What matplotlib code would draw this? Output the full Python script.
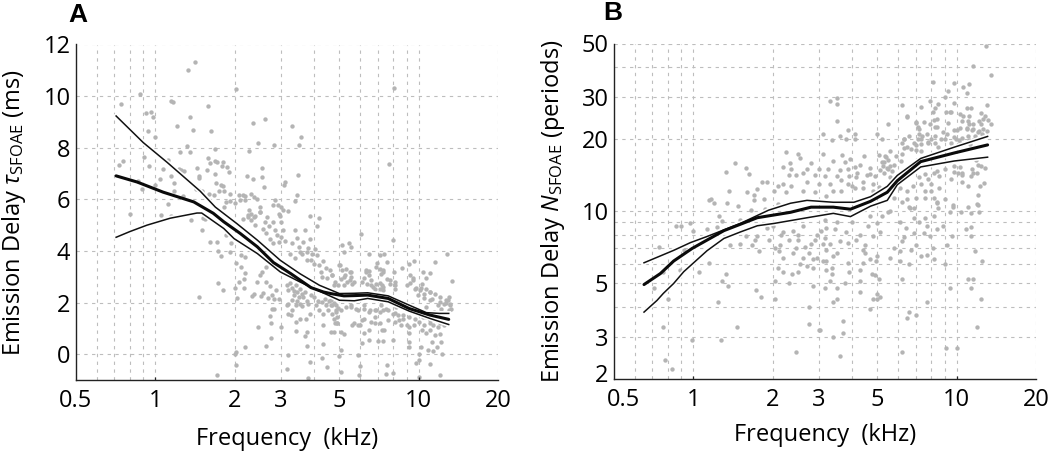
"""Emission delay vs frequency, two panels (log x axis)."""

import numpy as np
import matplotlib
matplotlib.use("Agg")
import matplotlib.pyplot as plt
import matplotlib.patheffects as pe
from matplotlib.ticker import NullFormatter
from matplotlib.transforms import ScaledTranslation

plt.rcParams['font.family'] = ['Open Sans', 'DejaVu Sans']
plt.rcParams['mathtext.fontset'] = 'custom'
plt.rcParams['mathtext.rm'] = 'Open Sans'
plt.rcParams['mathtext.it'] = 'Open Sans:italic'
plt.rcParams['mathtext.bf'] = 'Open Sans:bold'

# Panel A scatter: frequency (kHz), delay (ms)
points_a = [
    (1.41,11.33),(1.33,11.02),(2.03,10.27),(0.875,10.07),(0.74,9.70),(1.15,9.80),(1.17,9.76),(1.58,9.62),
    (0.92,9.36),(0.96,9.39),(0.977,9.2),(1.36,9.2),(1.21,8.86),(0.94,8.64),(1.39,8.68),(1.63,8.64),
    (0.995,8.41),(2.34,8.94),(2.6,9.12),(3.3,8.83),(3.56,8.4),(2.46,8.18),(2.83,8.1),(3.5,8.1),
    (2.26,7.88),(1.32,8.06),(1.24,7.84),(1.36,7.84),(1.68,7.96),(0.906,7.65),(1.12,7.54),(0.755,7.49),
    (0.73,7.35),(0.95,7.3),(1.59,7.6),(1.68,7.49),(1.71,7.43),(1.62,7.39),(1.81,7.45),(1.79,7.3),
    (1.87,7.26),(1.9,7.06),(1.44,7.23),(1.57,7.12),(1.68,7.0),(1.07,7.19),(1.23,7.17),(1.25,7.13),
    (1.28,7.08),(1.15,6.9),(1.46,6.91),(1.47,6.83),(1.04,6.78),(1.18,6.64),(1.0,6.57),(0.86,6.7),
    (0.89,6.39),(1.18,6.33),(1.7,6.64),(1.78,6.55),(1.8,6.52),(1.43,6.4),(1.47,6.35),(1.5,6.31),
    (1.75,6.31),(1.82,6.31),(1.6,6.2),(1.67,6.16),(1.92,6.2),(1.27,6.14),(2.22,6.9),(2.34,6.8),
    (2.55,7.2),(2.55,6.86),(2.59,6.47),(3.47,6.96),(3.12,6.66),(3.07,6.55),(3.44,6.16),(2.07,6.16),
    (2.15,6.15),(2.2,6.14),(2.3,6.19),(2.37,6.1),(2.43,6.0),(2.0,5.84),(2.1,5.97),(2.2,5.97),
    (1.85,5.9),(1.83,5.7),(1.92,5.94),(2.27,5.6),(2.5,5.7),(2.5,5.5),(2.8,5.77),(2.85,5.97),
    (2.93,5.8),(3.0,5.7),(3.05,5.58),(2.97,5.36),(3.2,5.55),(3.4,5.95),(2.25,5.38),(2.15,5.25),
    (2.37,5.3),(1.12,5.82),(0.8,5.45),(1.05,5.38),(1.15,5.36),(1.55,5.25),(7.69,7.36),(8.05,10.33),
    (1.37,5.19),(1.52,5.26),(1.5,4.8),(1.62,4.35),(1.72,4.35),(1.94,4.29),(1.85,4.61),(1.73,4.0),
    (1.92,3.96),(1.78,3.81),(2.12,3.86),(2.2,3.75),(2.03,3.54),(2.11,3.36),(2.19,3.13),(2.17,2.93),
    (2.08,2.8),(1.73,2.76),(1.81,2.5),(2.0,2.57),(2.17,2.57),(1.46,2.23),(2.05,2.19),(2.32,2.25),
    (2.38,2.35),(2.51,2.25),(2.57,2.39),(2.68,2.19),(2.78,2.29),(2.88,2.48),(2.73,2.65),(2.64,2.8),
    (2.44,2.8),(2.49,3.06),(2.55,3.19),(2.63,3.36),(2.82,2.12),(2.95,2.12),(2.77,1.77),(2.82,1.77),
    (2.73,1.47),(2.76,1.21),(2.46,1.05),(3.0,1.06),(2.76,0.61),(2.2,0.28),(2.64,0.31),(2.03,0.09),
    (2.0,0.02),(2.03,-0.41),(1.71,-0.8),(3.2,-0.04),(3.15,-0.58),(3.8,-0.93),(3.87,-0.31),(4.5,-0.49),
    (4.3,-0.14),(4.35,0.41),(3.78,0.31),(3.7,0.7),(3.75,0.87),(3.42,0.9),(3.43,1.23),(3.54,1.38),
    (3.72,1.36),(3.85,1.57),(3.2,1.57),(3.27,1.51),(3.15,1.9),(3.2,1.96),(3.15,2.67),(3.2,2.48),
    (3.3,2.58),(3.42,2.67),(3.55,2.54),(3.7,2.41),(3.35,2.29),(3.5,2.2),(3.65,2.2),(3.77,2.07),
    (3.55,1.96),(3.42,1.9),(3.3,1.73),(4.06,1.9),(4.2,1.7),(4.35,1.57),(4.52,1.7),(4.7,1.57),
    (4.28,2.03),(4.45,1.9),(4.65,2.1),(4.85,1.9),(4.9,1.45),(4.35,1.12),(4.65,0.87),(4.8,1.19),
    (2.3,5.45),(2.3,5.19),(2.4,5.0),(2.5,5.5),(2.6,5.13),(2.57,4.87),(2.63,4.68),(2.8,5.13),
    (2.95,5.45),(3.0,5.13),(2.85,4.8),(2.73,4.48),(2.8,4.29),(2.95,4.35),(3.0,4.55),(3.4,4.8),
    (3.7,4.8),(3.85,4.48),(3.65,4.35),(3.5,4.16),(3.6,3.9),(3.75,3.96),(4.05,4.09),(4.1,3.84),
    (3.9,3.64),(3.75,3.64),(4.2,3.45),(4.25,3.19),(4.6,3.25),(4.7,3.06),(5.0,3.45),(4.1,4.96),
    (3.85,5.35),(4.2,5.26),(3.4,3.71),(3.25,3.9),
    (6.06,4.65),(7.97,4.42),(5.1,4.23),(5.45,4.32),(5.55,4.14),(5.2,3.97),(6.5,3.9),(7.1,3.84),
    (7.4,3.88),(7.55,3.58),(6.95,3.52),(6.9,3.39),(7.1,3.29),(7.35,3.26),(8.06,3.17),(8.65,3.35),
    (9.2,3.49),(9.6,3.62),(11.5,3.56),(12.8,3.9),(13.4,2.83),(10.4,3.2),(11.0,3.13),(10.7,2.94),
    (9.5,2.94),(9.3,2.74),(9.8,2.55),(10.2,2.55),(11.0,2.42),(13.0,2.23),(12.7,2.1),(12.0,2.03),
    (11.0,2.1),(10.5,2.16),(9.9,2.29),(5.04,3.45),(5.3,3.29),(5.55,3.2),(6.3,3.2),(6.45,3.24),
    (5.2,3.0),(5.5,2.87),(5.7,2.81),(6.2,2.94),(6.6,2.87),(7.1,2.74),(6.7,2.61),(7.3,2.61),
    (7.8,2.87),(8.1,2.68),(4.7,1.9),(4.85,1.64),(4.9,1.2),(4.75,0.87),(5.05,0.87),(5.2,0.78),
    (5.3,1.84),(5.55,1.9),(5.8,1.77),(6.2,1.9),(6.55,1.71),(6.8,1.45),(5.9,1.13),(5.6,1.13),
    (6.1,1.32),(6.2,0.81),(6.5,0.94),(6.85,1.2),(7.25,0.94),(7.4,0.94),(6.5,0.55),(7.0,0.51),
    (7.3,0.51),(6.1,0.42),(8.0,0.55),(9.2,0.81),(9.2,0.48),(9.15,0.26),(10.2,0.26),(10.8,0.16),
    (11.3,0.13),(11.7,0.26),(12.2,0.48),(12.0,0.78),(11.2,0.48),(10.3,0.94),(11.0,1.2),(11.8,1.06),
    (5.05,0.16),(5.0,-0.07),(5.9,-0.03),(5.05,-0.68),(6.0,-0.46),(5.95,-0.81),(7.6,-0.42),(8.0,-0.72),
    (7.5,-0.77),(10.0,-0.9),(12.0,-0.8),(11.0,-0.38),(10.0,0.0),(10.0,-0.23),(9.8,-0.36),(12.3,0.0),
    (11.4,1.65),(12.1,1.77),(13.0,1.71),(10.7,1.84),(10.4,1.45),(10.9,1.39),(12.7,1.97),(13.2,1.9),
    (13.3,1.77),(11.8,1.9),(11.0,0.94),(10.7,0.81),(11.5,0.74),(8.2,1.84),(8.7,1.52),(8.4,1.32),
    (9.0,1.13),(9.2,1.06),(9.6,1.13),(8.1,1.58),(7.5,1.77),(7.2,1.9),(6.9,1.71),
    # dense band around the curve
    (5.1,3.25),(5.25,3.06),(5.05,2.93),(5.5,3.19),(5.55,3.0),(5.35,2.8),(5.2,2.67),(5.6,2.73),
    (4.7,3.06),(4.75,2.67),(4.95,2.67),(6.3,3.25),(6.5,3.06),(6.1,2.8),(6.35,2.73),(6.6,2.67),
    (6.9,2.73),(7.2,3.12),(7.35,3.19),(7.55,2.93),(7.25,2.67),(7.8,2.73),(8.1,2.8),(8.1,2.54),
    (6.8,2.54),(7.1,2.54),(7.35,2.48),(9.0,2.67),(9.5,2.87),(9.3,3.06),(10.3,2.73),(10.7,2.54),
    (11.0,2.41),(11.5,2.35),(12.0,2.22),(12.9,2.09),(12.5,1.96),(13.2,1.96),(11.2,2.15),(10.5,2.35),
    (10.1,2.48),(9.7,2.54),(4.63,1.9),(4.85,1.7),(5.05,1.7),(4.75,1.38),(4.9,1.2),(5.55,1.83),
    (5.9,1.7),(6.2,1.77),(6.45,1.64),(6.85,1.7),(7.1,1.64),(7.35,1.7),(7.65,1.7),(8.0,1.57),
    (8.35,1.51),(8.75,1.38),(9.2,1.44),(9.7,1.38),(10.0,1.25),(10.7,1.44),(11.0,1.32),(11.5,1.38),
    (12.0,1.19),(12.5,1.12),(11.3,1.12),(10.5,1.12),(6.2,1.38),(6.0,1.12),(5.7,1.19),(6.6,1.25),
    (7.1,1.19),(7.65,1.32),(8.1,1.25),(8.6,1.12),(3.25,2.75),(3.35,2.45),(3.45,2.42),(3.6,2.35),
    (3.3,2.1),(3.45,2.05),(3.6,1.85),(3.8,1.95),(3.9,2.3),(4.0,2.2),(4.15,2.05),(4.4,2.15),
    (4.55,2.05),(4.75,2.0),(4.95,1.8),(2.25,5.3),(2.4,5.35),(2.65,5.3),(2.7,4.95),(2.9,4.6),
    (3.1,4.4),(3.05,4.8),(3.3,4.3),(3.45,4.5),(3.55,3.95),(3.8,4.1),(3.95,3.9),(4.0,3.5),
    (4.35,3.6),(4.45,3.35),(4.5,2.95),(4.3,3.0),(4.8,2.8),
]

# Panel A curves: mean and the two bounds
mean_f_a = [0.71,0.854,1.07,1.4,1.66,1.82,2.1,2.44,2.81,3.27,3.9,4.35,4.63,5.2,5.68,6.4,7.66,9.2,11.0,13.0]
mean_a = [6.91,6.67,6.28,5.9,5.46,5.13,4.68,4.16,3.55,3.12,2.58,2.41,2.35,2.26,2.27,2.29,2.16,1.77,1.52,1.35]
upper_f_a = [0.71,0.9,1.11,1.48,1.69,2.04,2.44,2.98,3.54,4.2,5.0,5.7,6.4,7.66,9.2,10.7,12.0,13.0]
upper_a = [9.23,8.2,7.43,6.32,5.7,5.06,4.42,3.64,3.12,2.67,2.35,2.36,2.38,2.26,1.9,1.61,1.58,1.58]
lower_f_a = [0.71,0.8,0.93,1.14,1.44,1.5,1.57,1.82,1.99,2.44,2.98,3.54,4.2,5.0,5.7,6.4,7.66,9.2,11.0,13.0]
lower_a = [4.53,4.75,5.0,5.27,5.47,5.47,5.33,4.87,4.48,3.9,3.19,2.8,2.44,2.09,2.07,2.16,2.03,1.67,1.39,1.15]

# Panel B scatter: frequency (kHz), delay (periods)
points_b = [
    (1.44,15.9),(1.33,14.6),(1.58,15.1),(1.63,14.3),(1.17,11.3),(1.15,11.1),(1.37,12.2),(1.34,10.8),
    (1.2,10.8),(1.48,10.5),(1.25,9.6),(0.975,8.9),(0.9,8.7),(0.86,8.7),(1.0,8.3),(1.13,8.4),
    (1.23,8.6),(1.28,9.1),(1.5,9.2),(1.58,7.9),(1.72,7.6),(1.67,7.2),(1.77,6.8),(1.38,7.2),
    (1.51,7.3),(0.92,6.9),(0.74,7.1),(1.15,6.1),(1.05,5.6),(0.89,5.7),(0.77,5.6),(1.33,5.5),
    (1.29,5.1),(1.35,4.9),(0.71,4.8),(0.8,4.3),(1.73,4.7),(1.8,4.4),(2.05,4.3),(1.24,4.2),
    (0.77,3.3),(0.99,2.9),(1.27,2.9),(1.46,3.3),(0.78,2.4),(0.83,2.2),(2.45,2.6),(2.75,3.4),
    (2.74,4.0),(3.0,3.2),(2.85,4.9),(2.3,5.0),(2.05,5.1),(2.37,5.5),(2.5,5.6),(2.2,5.6),
    (2.1,5.8),(2.2,6.4),(2.05,7.0),(2.13,7.2),(2.12,6.8),(2.4,6.7),(2.6,6.4),(2.65,7.1),
    (2.75,6.7),(2.85,6.3),(2.55,6.0),(2.7,5.9),(2.85,5.8),(2.95,6.4),(2.5,7.6),(2.2,8.2),
    (2.15,8.0),(1.93,7.6),(2.5,8.0),(2.95,8.0),(2.6,8.7),(1.7,11.7),(1.75,12.4),(1.83,13.2),
    (1.9,13.2),(1.7,11.1),(1.85,11.3),(2.03,12.2),(2.1,12.7),(2.2,13.0),(2.25,12.0),(2.35,12.7),
    (2.45,14.2),(2.3,14.2),(2.2,15.3),(2.33,15.9),(2.6,12.2),(2.7,13.3),(2.9,14.2),(3.0,13.0),
    (2.9,12.0),(2.25,17.6),(2.5,17.4),(2.8,15.9),(2.55,16.7),(1.6,12.0),(1.65,10.1),(1.87,10.2),
    (2.1,10.7),
    (12.9,48.9),(11.5,40.4),(13.5,37.0),(8.1,34.6),(9.8,34.3),(11.1,34.0),(10.6,32.8),(10.9,31.0),
    (9.3,31.6),(9.0,30.0),(7.9,28.8),(8.5,28.0),(9.8,28.3),(6.2,27.7),(7.3,27.2),(8.1,26.0),
    (9.5,26.0),(10.9,26.8),(13.0,27.8),(11.3,27.0),(10.6,25.0),(11.1,25.0),(12.8,25.0),(6.5,24.8),
    (8.4,24.2),(9.3,23.4),(7.0,23.4),(7.9,23.2),(5.5,23.2),(3.5,23.8),(3.3,28.8),(3.5,29.5),
    (3.5,28.0),(13.5,23.2),(12.4,23.0),(11.1,23.0),(12.6,22.0),(13.0,21.5),(12.2,21.5),(11.5,22.0),
    (10.9,22.0),(10.0,21.8),(8.4,22.4),(7.2,22.0),(7.2,21.0),(7.3,20.0),(5.0,21.0),(5.2,20.0),
    (6.3,20.0),(3.85,21.8),(4.1,21.0),(4.1,20.0),(3.8,20.0),(3.6,20.5),(3.35,19.8),(3.1,20.9),
    (6.2,19.2),(6.5,18.6),(7.0,18.9),(8.0,20.0),(7.8,19.5),(8.5,18.6),(9.0,20.0),(9.8,20.4),
    (11.1,19.8),(10.2,19.8),(3.1,17.3),(3.68,17.2),(3.4,16.2),(3.75,16.0),(3.85,15.0),(4.1,15.3),
    (4.3,15.6),(4.7,15.1),(4.7,14.3),(3.5,14.0),(3.65,13.5),(3.85,13.0),(4.0,12.7),(4.15,13.9),
    (4.1,12.5),(4.4,12.5),(3.65,12.2),(3.4,12.2),(3.2,11.6),(4.8,13.0),(4.8,12.2),(5.05,12.6),
    (5.1,14.8),(5.3,16.0),(5.6,17.8),(5.05,17.2),(5.45,15.2),(5.2,16.0),(5.5,16.4),(5.8,15.6),
    (6.15,16.2),(5.3,14.4),(5.6,13.9),(6.2,17.4),(7.3,17.9),(11.8,16.3),(12.0,15.6),(12.8,15.1),
    (11.9,14.5),(11.3,14.0),(10.5,14.5),(9.8,14.6),(9.5,13.6),(8.45,14.7),(7.8,13.6),(7.2,13.9),
    (8.0,13.0),(8.6,12.5),(8.0,12.2),(8.2,11.4),(8.4,10.8),(7.3,13.0),(6.8,12.8),(7.6,12.2),
    (7.0,11.4),(6.5,12.2),(6.5,11.2),(7.6,11.4),(6.1,12.5),(5.8,11.4),(6.6,10.4),(10.5,13.2),
    (11.0,12.7),(12.7,13.1),(12.3,12.8),(12.0,11.7),(12.0,10.6),(9.7,10.4),(9.0,11.2),
    (6.2,10.9),(8.4,10.9),(9.7,10.6),(11.9,10.7),(11.0,10.4),(12.2,9.9),(11.3,9.8),(10.4,9.9),
    (9.4,9.9),(8.5,10.3),(6.9,10.3),(6.65,10.3),(5.5,9.9),(6.1,9.0),(6.9,9.4),(7.6,9.4),
    (7.7,8.7),(8.2,9.6),(11.3,8.6),(10.8,8.4),(11.3,7.9),(9.6,7.9),(6.9,8.1),(7.5,8.1),
    (6.3,7.8),(6.2,7.5),(5.8,7.0),(6.1,6.8),(6.1,6.2),(5.6,6.4),(6.6,6.0),(7.3,6.5),
    (7.7,6.6),(11.7,6.8),(12.5,6.2),(11.0,5.2),(11.5,5.2),(11.3,4.8),(12.4,4.3),(11.9,3.3),
    (10.0,2.7),(9.1,2.7),(7.7,4.2),(7.0,3.7),(6.5,3.6),(6.6,3.8),(6.2,2.6),(3.6,2.5),
    (3.7,3.1),(3.4,3.0),(3.7,3.5),(3.04,3.2),(5.1,4.4),(5.0,4.5),(5.0,4.3),(4.8,4.3),
    (4.7,3.9),(3.5,4.3),(3.4,4.2),(4.3,4.6),(3.5,4.8),(3.15,4.8),(3.3,5.1),(3.75,5.0),
    (4.3,5.1),(6.2,5.2),(9.4,4.8),(5.05,5.2),(4.75,5.5),(4.9,5.4),(3.9,5.6),(4.3,5.7),
    (3.35,5.8),(3.35,5.5),(3.2,5.7),(3.85,6.1),(4.4,6.1),(4.7,6.3),(4.95,6.2),(3.4,6.5),
    (3.1,6.2),(4.4,6.9),(4.5,6.7),(5.0,6.5),(3.2,6.9),(3.5,6.7),(3.85,7.4),(3.6,7.5),
    (4.5,7.2),(4.15,7.6),(4.3,8.0),(3.15,7.7),(3.3,7.3),(3.45,8.4),(3.8,8.2),(3.2,8.5),
    (4.6,8.7),(5.0,8.9),(4.8,7.9),(5.1,8.2),(3.5,9.0),(3.15,9.2),(4.0,9.0),(5.2,9.6),
    (4.7,9.6),(5.6,10.0),
    # dense cloud above the curves at high frequency
    (6.5,24.9),(7.0,23.5),(7.1,22.5),(7.5,23.5),(8.2,24.0),(8.3,22.5),(8.3,27.0),(9.1,26.0),
    (9.4,26.0),(10.3,25.5),(10.5,23.7),(11.0,23.7),(11.5,23.0),(12.2,23.7),(12.6,24.3),(12.4,25.7),
    (13.2,24.0),(10.9,22.2),(10.3,22.2),(9.8,21.8),(11.4,21.8),(12.0,21.4),(12.5,21.0),(11.7,20.6),
    (11.0,20.6),(10.5,20.2),(9.9,20.0),(9.2,21.0),(8.9,21.4),(8.7,20.0),(8.3,20.6),(7.7,21.0),
    (7.4,20.6),(7.1,20.0),(6.6,20.6),(6.3,20.0),(6.9,19.3),(7.3,19.0),(7.8,19.3),(8.3,19.3),
    (9.5,19.3),(10.3,19.3),(11.5,19.8),(11.2,19.0),(6.3,18.4),(6.7,18.2),(7.0,18.0),(9.8,15.5),
    (10.3,15.3),(10.1,14.4),(10.5,14.2),(11.4,15.0),(11.5,14.4),(12.4,15.5),(9.0,15.0),(8.2,14.4),
    (8.6,14.0),(7.6,14.3),(3.3,13.0),(3.6,14.8),(3.9,14.0),(4.2,14.5),(4.4,13.3),(4.55,14.2),
    (4.9,14.0),(3.95,16.5),(4.45,17.0),(3.25,15.0),(3.0,15.0),(3.15,14.0),(2.7,15.0),(2.6,14.5),
    (2.35,15.0),(5.35,17.0),(5.5,15.0),(5.7,14.7),(5.25,15.5),(5.4,16.8),(5.9,17.0),(5.6,15.5),
    (6.4,8.5),(7.2,9.0),(7.9,7.9),(8.4,8.4),(8.9,8.7),(9.2,7.2),(8.1,7.0),(7.0,7.2),
    (6.7,6.9),(9.0,6.0),(8.2,6.3),(1.9,8.5),(2.0,8.7),(2.3,7.6),(2.4,8.3),(1.75,7.9),
    (2.8,7.3),(3.1,7.3),(3.2,6.2),(2.9,7.6),(3.05,8.3),(2.45,7.0),
]

# Panel B curves
mean_f_b = [0.65,0.75,0.842,0.99,1.306,1.75,2.34,2.8,3.4,3.95,4.71,5.45,5.95,7.3,9.8,13.1]
mean_b = [4.95,5.5,6.2,7.0,8.3,9.4,9.9,10.4,10.4,10.2,11.0,12.0,13.4,16.1,17.5,18.9]
upper_f_b = [0.65,0.842,0.975,1.128,1.51,1.93,2.34,2.7,3.4,4.07,4.71,5.45,5.95,7.3,9.8,13.1]
upper_b = [6.1,6.87,7.4,7.85,8.9,10.1,10.8,11.1,10.9,10.9,11.5,12.7,14.1,16.6,18.5,20.5]
lower_f_b = [0.65,0.728,0.77,0.842,0.92,1.128,1.306,1.51,1.75,2.03,2.71,3.4,3.95,4.71,5.45,5.95,7.3,9.8,13.1]
lower_b = [3.8,4.25,4.55,5.0,5.6,6.85,7.7,8.2,8.7,8.9,9.4,9.8,9.5,10.5,11.1,12.9,15.3,16.2,16.8]

grid_freqs = [0.6, 0.7, 0.8, 0.9, 1, 2, 3, 4, 5, 6, 7, 8, 9, 10, 20]
freq_ticks = [0.5, 1, 2, 3, 5, 10, 20]
freq_labels = ['0.5', '1', '2', '3', '5', '10', '20']
yticks_a = [0, 2, 4, 6, 8, 10, 12]
yticks_b = [2, 3, 5, 10, 20, 30, 50]
ygrid_b = [3, 4, 5, 6, 7, 8, 9, 10, 20, 30, 40, 50]

W, H = 1050, 451
GRID = '#bdbdbd'
DOT = '#b4b4b4'
TICK_SIZE = 17
LABEL_SIZE = 17


def panel(left, right, top, bottom):
    return fig.add_axes([left / W, 1 - bottom / H, (right - left) / W, (bottom - top) / H])


def style(ax, xlabel_pad):
    ax.set_xscale('log')
    ax.set_xlim(0.5, 20)
    ax.set_xticks(freq_ticks, freq_labels)
    ax.set_xticks([], minor=True)
    ax.xaxis.set_minor_formatter(NullFormatter())
    ax.tick_params(length=0, labelsize=TICK_SIZE)
    ax.tick_params(axis='x', pad=6.5)
    ax.tick_params(axis='y', pad=4)
    ax.vlines(grid_freqs, 0, 1, transform=ax.get_xaxis_transform(), color=GRID,
              lw=0.8, linestyles=(0, (3, 4)), zorder=1)
    for s in ['top', 'right']:
        ax.spines[s].set_visible(False)
    for s in ['left', 'bottom']:
        ax.spines[s].set_linewidth(1.0)
        ax.spines[s].set_color('#222222')
    ax.set_xlabel('Frequency  (kHz)', fontsize=LABEL_SIZE, labelpad=xlabel_pad)
    # small inward ticks at the decades
    ax.vlines([1, 10], 0, 0.009, transform=ax.get_xaxis_transform(), color='#222222', lw=0.9, zorder=4)


def curves(ax, mean, upper, lower):
    halo = [pe.withStroke(linewidth=3.4, foreground='white')]
    ax.plot(*upper, color='#111111', lw=1.1, zorder=3, path_effects=halo)
    ax.plot(*lower, color='#111111', lw=1.1, zorder=3, path_effects=halo)
    ax.plot(*mean, color='#0a0a0a', lw=2.2, zorder=3.5, solid_capstyle='round')


def nudge(label, dx_px, dy_px):
    label.set_transform(label.get_transform()
                        + ScaledTranslation(dx_px / 100, dy_px / 100, fig.dpi_scale_trans))


fig = plt.figure(figsize=(W / 100, H / 100), dpi=100)

# Panel A
ax_a = panel(76, 498, 44.5, 380)
style(ax_a, 10)
ax_a.set_ylim(-1, 12)
ax_a.set_yticks(yticks_a)
ax_a.hlines(yticks_a, 0, 1, transform=ax_a.get_yaxis_transform(), color=GRID,
            lw=0.8, linestyles=(0, (3, 4)), zorder=1)
pts = np.array(points_a)
ax_a.scatter(pts[:, 0], pts[:, 1], s=10, color=DOT, linewidths=0, zorder=2)
curves(ax_a, (mean_f_a, mean_a), (upper_f_a, upper_a), (lower_f_a, lower_a))
ax_a.set_ylabel(r'Emission Delay $\tau_{\mathrm{SFOAE}}$ (ms)', fontsize=LABEL_SIZE)
ax_a.yaxis.set_label_coords(-0.114, 0.5)
fig.text(68 / W, 1 - 22 / H, 'A', fontsize=19, fontweight='bold', family='Liberation Sans')

# Panel B
ax_b = panel(614, 1036, 43.5, 379)
style(ax_b, 8)
ax_b.set_yscale('log')
ax_b.set_ylim(2, 50)
ax_b.set_yticks(yticks_b, [str(v) for v in yticks_b])
ax_b.set_yticks([], minor=True)
ax_b.yaxis.set_minor_formatter(NullFormatter())
ax_b.tick_params(axis='y', length=0, labelsize=TICK_SIZE, pad=4)
ax_b.hlines(ygrid_b, 0, 1, transform=ax_b.get_yaxis_transform(), color=GRID,
            lw=0.8, linestyles=(0, (3, 4)), zorder=1)
pts = np.array(points_b)
ax_b.scatter(pts[:, 0], pts[:, 1], s=10, color=DOT, linewidths=0, zorder=2)
curves(ax_b, (mean_f_b, mean_b), (upper_f_b, upper_b), (lower_f_b, lower_b))
ax_b.set_ylabel(r'Emission Delay $\mathit{N}_{\mathrm{SFOAE}}$ (periods)', fontsize=LABEL_SIZE)
ax_b.yaxis.set_label_coords(-0.111, 0.5)
fig.text(603 / W, 1 - 20 / H, 'B', fontsize=19, fontweight='bold', family='Liberation Sans')

# the corner labels of panel B sit off their ticks in the original
nudge(ax_b.get_xticklabels()[0], 9, 0)
nudge(ax_b.get_yticklabels()[0], 0, 6)

fig.savefig('out.png', dpi=100)
